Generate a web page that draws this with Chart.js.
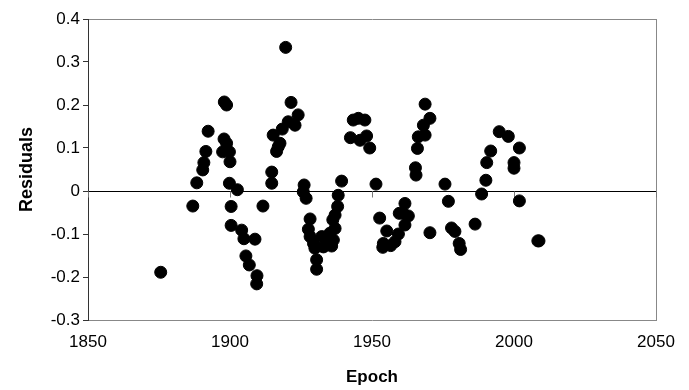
<!DOCTYPE html>
<html>
<head>
<meta charset="utf-8">
<script src="https://cdn.jsdelivr.net/npm/chart.js@4"></script>
<style>
  body { margin: 0; background: #fff; }
  #wrap { width: 689px; height: 390px; }
</style>
</head>
<body>
<div id="wrap"><canvas id="residChart"></canvas></div>
<script>
// epochs and residuals
const epochs = [
    1875.6, 1886.9, 1888.3, 1890.4, 1890.8, 1891.5, 1892.3, 1897.4, 1897.9, 1898.0,
    1898.8, 1898.8, 1899.8, 1900.0, 1899.8, 1902.6, 1900.4, 1900.4, 1904.1, 1904.9,
    1908.8, 1905.6, 1906.8, 1909.5, 1909.4, 1911.6, 1914.7, 1914.7, 1915.2, 1916.4,
    1917.0, 1917.6, 1918.4, 1919.6, 1920.5, 1921.5, 1922.9, 1924.0, 1925.8, 1926.1,
    1926.8, 1927.6, 1928.2, 1928.2, 1929.4, 1929.9, 1930.5, 1930.5, 1932.3, 1932.9,
    1934.0, 1935.2, 1935.8, 1936.4, 1937.0, 1936.2, 1937.0, 1937.9, 1938.1, 1939.3,
    1942.4, 1943.4, 1945.2, 1945.8, 1947.5, 1948.1, 1949.2, 1951.4, 1952.7, 1954.0,
    1953.8, 1955.2, 1956.6, 1958.1, 1959.3, 1959.6, 1961.0, 1961.6, 1961.6, 1962.8,
    1965.5, 1965.3, 1966.0, 1966.3, 1968.1, 1968.7, 1968.7, 1970.4, 1970.4, 1975.7,
    1976.9, 1978.0, 1979.2, 1980.7, 1981.2, 1986.3, 1988.6, 1990.1, 1990.4, 1991.8,
    1994.8, 1998.0, 2000.0, 2000.0, 2001.9, 2001.9, 2008.4, 2008.8
];
const residuals = [
    -0.189, -0.035, 0.019, 0.049, 0.066, 0.092, 0.139, 0.091, 0.121, 0.207,
    0.200, 0.111, 0.091, 0.068, 0.018, 0.003, -0.036, -0.080, -0.091, -0.111,
    -0.112, -0.151, -0.172, -0.197, -0.216, -0.035, 0.018, 0.044, 0.130, 0.092,
    0.103, 0.111, 0.144, 0.334, 0.161, 0.206, 0.153, 0.177, -0.002, 0.014,
    -0.017, -0.089, -0.065, -0.106, -0.122, -0.133, -0.160, -0.182, -0.106, -0.130,
    -0.114, -0.098, -0.128, -0.114, -0.087, -0.067, -0.056, -0.036, -0.010, 0.023,
    0.124, 0.165, 0.169, 0.118, 0.165, 0.128, 0.100, 0.016, -0.063, -0.122,
    -0.131, -0.093, -0.127, -0.118, -0.100, -0.052, -0.052, -0.029, -0.079, -0.058,
    0.037, 0.054, 0.099, 0.126, 0.153, 0.202, 0.130, 0.169, -0.097, 0.016,
    -0.024, -0.086, -0.094, -0.122, -0.136, -0.077, -0.007, 0.025, 0.066, 0.093,
    0.138, 0.127, 0.066, 0.053, 0.100, -0.023, -0.116, -0.116
];
const xTicks = [1850, 1900, 1950, 2000, 2050];
const yTicks = [-0.3, -0.2, -0.1, 0, 0.1, 0.2, 0.3, 0.4];

const points = epochs.map((e, i) => ({ x: e, y: residuals[i] }));

Chart.defaults.font.family = '"Liberation Sans", Arial, sans-serif';
Chart.defaults.color = '#000';

// right border plus the little ticks hanging under the zero line
const frame = {
    id: 'frame',
    beforeDatasetsDraw(chart) {
        const ctx = chart.ctx;
        const a = chart.chartArea;
        const xs = chart.scales.x, ys = chart.scales.y;
        const y0 = Math.round(ys.getPixelForValue(0)) + 0.5;
        ctx.save();
        ctx.strokeStyle = '#888';
        ctx.lineWidth = 1;
        ctx.beginPath();
        ctx.moveTo(Math.round(a.right) + 0.5, a.top);
        ctx.lineTo(Math.round(a.right) + 0.5, a.bottom);
        ctx.stroke();
        ctx.strokeStyle = '#777';
        ctx.beginPath();
        xTicks.forEach(t => {
            const px = Math.round(xs.getPixelForValue(t)) + 0.5;
            ctx.moveTo(px, y0);
            ctx.lineTo(px, y0 + 6);
        });
        ctx.stroke();
        ctx.restore();
    }
};

new Chart(document.getElementById('residChart'), {
    type: 'scatter',
    data: {
        datasets: [{
            label: 'Residuals',
            data: points,
            backgroundColor: '#000',
            borderColor: '#000',
            borderWidth: 1,
            pointRadius: 6,
            pointHoverRadius: 6
        }]
    },
    options: {
        responsive: true,
        maintainAspectRatio: false,
        animation: false,
        layout: { padding: { left: 0, top: 19, right: 33, bottom: 0 } },
        plugins: {
            legend: { display: false },
            tooltip: { enabled: false }
        },
        scales: {
            x: {
                type: 'linear',
                min: 1850,
                max: 2050,
                afterBuildTicks: s => { s.ticks = xTicks.map(v => ({ value: v })); },
                afterFit: s => { s.height = 70; },
                grid: { display: false, drawTicks: false },
                border: { display: true, color: '#888' },
                ticks: {
                    font: { size: 17 },
                    padding: 12,
                    maxRotation: 0,
                    callback: v => String(v)
                },
                title: {
                    display: true,
                    text: 'Epoch',
                    font: { size: 17, weight: 'bold' },
                    padding: { top: 0, bottom: 2 }
                }
            },
            y: {
                min: -0.3,
                max: 0.4,
                afterBuildTicks: s => { s.ticks = yTicks.map(v => ({ value: v })); },
                afterFit: s => { s.width = 88; },
                grid: {
                    drawOnChartArea: true,
                    drawTicks: true,
                    tickLength: 5,
                    tickColor: '#333',
                    color: c => {
                        if (c.tick && Math.abs(c.tick.value) < 1e-9) return '#000';
                        if (c.tick && Math.abs(c.tick.value - 0.4) < 1e-9) return '#888';
                        return 'rgba(0,0,0,0)';
                    }
                },
                border: { display: true, color: '#333' },
                ticks: {
                    font: { size: 17 },
                    padding: 3,
                    callback: v => String(Math.round(v * 10) / 10)
                },
                title: {
                    display: true,
                    text: 'Residuals',
                    font: { size: 18, weight: 'bold' },
                    padding: { top: 16, bottom: 16 }
                }
            }
        }
    },
    plugins: [frame]
});
</script>
</body>
</html>
